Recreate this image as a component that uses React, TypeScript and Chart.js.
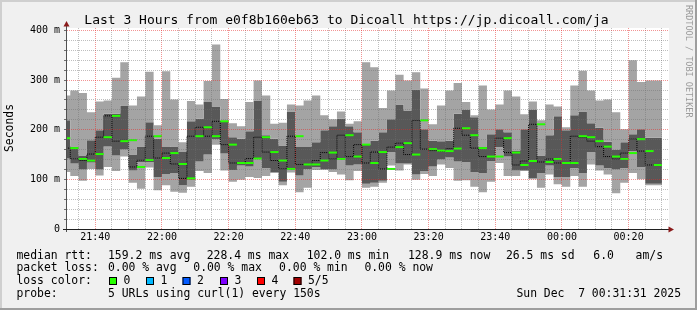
import React, { useEffect, useRef } from 'react';
import { Chart, registerables } from 'chart.js';

Chart.register(...registerables);

// time axis in minutes after 21:30 (one step = 150 s = 2.5 min)
const STEP_MIN = 2.5;
const X_MIN = 1 + 31 / 60; // 21:31:31
const X_MAX = X_MIN + 180; // 00:31:31
const Y_MAX = 405;

// per-step sorted ping values (ms)
const pingMax = [
  239, 269, 279, 274, 235, 257, 259, 305, 336, 249, 267, 317,
  209, 318, 261, 175, 258, 251, 298, 372, 262, 213, 207, 256,
  299, 269, 212, 214, 251, 249, 259, 269, 229, 221, 237, 212,
  217, 336, 326, 244, 279, 311, 299, 316, 283, 211, 249, 279,
  294, 256, 229, 289, 241, 251, 279, 267, 231, 257, 219, 251,
  247, 205, 289, 319, 279, 259, 261, 235, 201, 340, 296, 299,
];
const pingQ3 = [
  207, 219, 166, 148, 179, 199, 232, 232, 249, 150, 166, 215,
  182, 165, 166, 155, 217, 222, 256, 247, 217, 185, 182, 197,
  259, 189, 182, 168, 237, 165, 165, 175, 199, 207, 222, 207,
  195, 170, 178, 195, 221, 251, 239, 281, 201, 178, 177, 178,
  232, 241, 225, 165, 191, 201, 195, 158, 201, 241, 148, 189,
  227, 199, 229, 237, 213, 204, 176, 160, 175, 191, 201, 184,
];
const pingMedian = [
  183, 163, 141, 138, 151, 185, 228, 177, 179, 125, 139, 187,
  143, 153, 131, 102, 187, 205, 187, 217, 170, 133, 133, 142,
  185, 155, 138, 121, 187, 130, 130, 138, 154, 141, 189, 146,
  170, 133, 155, 121, 165, 173, 150, 219, 161, 158, 157, 162,
  203, 189, 163, 146, 146, 183, 154, 129, 137, 211, 135, 141,
  133, 133, 187, 185, 177, 166, 146, 141, 153, 181, 157, 129,
];
const pingQ1 = [
  121, 142, 132, 120, 134, 120, 166, 148, 160, 118, 135, 135,
  105, 111, 113, 88, 99, 136, 150, 181, 152, 119, 128, 126,
  143, 123, 115, 95, 121, 108, 121, 125, 121, 120, 143, 128,
  130, 91, 93, 97, 155, 132, 132, 110, 117, 126, 140, 144,
  136, 135, 115, 113, 137, 165, 146, 118, 118, 103, 113, 128,
  105, 105, 123, 113, 155, 128, 123, 120, 123, 157, 125, 91,
];
const pingMin = [
  105, 115, 107, 97, 121, 108, 125, 117, 146, 93, 81, 124,
  78, 88, 75, 73, 85, 117, 113, 170, 118, 95, 99, 105,
  103, 107, 113, 88, 114, 74, 83, 119, 119, 115, 110, 98,
  117, 83, 85, 93, 128, 118, 130, 99, 111, 107, 130, 123,
  97, 98, 85, 74, 95, 133, 107, 107, 117, 100, 83, 110,
  90, 85, 107, 85, 130, 118, 110, 72, 93, 113, 100, 88,
];

const xMajorValues = [10, 30, 50, 70, 90, 110, 130, 150, 170];
const xTickLabels = ['21:40', '22:00', '22:20', '22:40', '23:00', '23:20', '23:40', '00:00', '00:20'];
const yMajorValues = [0, 100, 200, 300, 400];
const yTickLabels = ['0', '100 m', '200 m', '300 m', '400 m'];

const titleText = 'Last 3 Hours from e0f8b160eb63 to Dicoall https://jp.dicoall.com/ja';
const yTitle = 'Seconds';
const watermark = 'RRDTOOL / TOBI OETIKER';
const rttStats = ['159.2 ms avg', '228.4 ms max', '102.0 ms min', '128.9 ms now', '26.5 ms sd', '6.0', 'am/s'];
const lossStats = ['0.00 % avg', '0.00 % max', '0.00 % min', '0.00 % now'];
const lossLabels = ['0', '1', '2', '3', '4', '5/5'];
const lossColors = ['#26ff00', '#00b8ff', '#0059ff', '#7e00ff', '#ff0000', '#a10000'];
const probeText = '5 URLs using curl(1) every 150s';
const dateText = 'Sun Dec  7 00:31:31 2025';

const MONO = '"DejaVu Sans Mono", monospace';
const LIGHT = '#a4a4a4';
const DARK = '#585858';
const GRID_MINOR = 'rgba(110,110,110,0.45)';
const GRID_MAJOR = 'rgba(230,40,40,0.5)';

const stepPoints = (vals: number[]) => [
  ...vals.map((v, i) => ({ x: i * STEP_MIN, y: v })),
  { x: vals.length * STEP_MIN, y: vals[vals.length - 1] },
];

const rrdPlugin = {
  id: 'rrdDecor',
  beforeDraw(chart: any) {
    const { ctx, width, height, chartArea: ca } = chart;
    ctx.save();
    ctx.fillStyle = '#f0f0f0';
    ctx.fillRect(0, 0, width, height);
    ctx.fillStyle = '#ffffff';
    ctx.fillRect(ca.left, ca.top, ca.right - ca.left + 2, ca.bottom - ca.top);
    ctx.fillStyle = '#cfcfcf';
    ctx.fillRect(0, 0, width, 2);
    ctx.fillRect(0, 0, 2, height);
    ctx.fillStyle = '#9e9e9e';
    ctx.fillRect(0, height - 2, width, 2);
    ctx.fillRect(width - 2, 0, 2, height);
    ctx.restore();
  },
  afterDatasetsDraw(chart: any) {
    // dotted rrdtool-style grid on top of the smoke
    const { ctx, chartArea: ca, scales } = chart;
    const xs = scales.x;
    const ys = scales.y;
    ctx.save();
    xs.ticks.forEach((t: any) => {
      const px = Math.floor(xs.getPixelForValue(t.value));
      ctx.fillStyle = xMajorValues.includes(t.value) ? GRID_MAJOR : GRID_MINOR;
      for (let py = Math.ceil(ca.top); py < ca.bottom; py += 2) ctx.fillRect(px, py, 1, 1);
    });
    ys.ticks.forEach((t: any) => {
      if (t.value === 0) return;
      const py = Math.floor(ys.getPixelForValue(t.value));
      ctx.fillStyle = yMajorValues.includes(t.value) ? GRID_MAJOR : GRID_MINOR;
      for (let px = Math.ceil(ca.left); px < ca.right + 1; px += 2) ctx.fillRect(px, py, 1, 1);
    });
    ctx.restore();
  },
  afterDraw(chart: any) {
    const { ctx, chartArea: ca } = chart;
    ctx.save();
    ctx.lineWidth = 1;
    ctx.strokeStyle = '#505050';
    ctx.beginPath();
    ctx.moveTo(ca.left - 0.5, ca.bottom + 3);
    ctx.lineTo(ca.left - 0.5, ca.top - 2);
    ctx.stroke();
    ctx.strokeStyle = '#202020';
    ctx.beginPath();
    ctx.moveTo(ca.left - 4, ca.bottom + 0.5);
    ctx.lineTo(ca.right + 2, ca.bottom + 0.5);
    ctx.stroke();
    ctx.fillStyle = '#8a1a1a';
    ctx.beginPath();
    ctx.moveTo(ca.left - 3.5, ca.top - 1.5);
    ctx.lineTo(ca.left + 2.5, ca.top - 1.5);
    ctx.lineTo(ca.left - 0.5, ca.top - 7);
    ctx.closePath();
    ctx.fill();
    ctx.beginPath();
    ctx.moveTo(ca.right + 1.5, ca.bottom - 2.5);
    ctx.lineTo(ca.right + 1.5, ca.bottom + 3.5);
    ctx.lineTo(ca.right + 7, ca.bottom + 0.5);
    ctx.closePath();
    ctx.fill();

    ctx.fillStyle = '#000';
    ctx.font = `13px ${MONO}`;
    ctx.textAlign = 'center';
    ctx.textBaseline = 'alphabetic';
    ctx.fillText(titleText, 346.5, 24);

    ctx.save();
    ctx.translate(10.5, 128);
    ctx.rotate(-Math.PI / 2);
    ctx.font = `11.4px ${MONO}`;
    ctx.textAlign = 'center';
    ctx.textBaseline = 'middle';
    ctx.fillText(yTitle, 0, 0);
    ctx.restore();

    ctx.save();
    ctx.translate(688.5, 5);
    ctx.rotate(Math.PI / 2);
    ctx.font = `8.5px ${MONO}`;
    ctx.fillStyle = '#9a9a9a';
    ctx.textAlign = 'left';
    ctx.textBaseline = 'middle';
    ctx.fillText(watermark, 0, 0);
    ctx.restore();

    ctx.font = `11.4px ${MONO}`;
    ctx.fillStyle = '#000';
    ctx.textAlign = 'left';
    ctx.textBaseline = 'middle';
    const rows = [256, 268.5, 281, 294];
    ctx.fillText('median rtt:', 16.5, rows[0]);
    const rttX = [108, 206.7, 306.7, 408, 506, 593.3, 635.6];
    rttStats.forEach((t, i) => ctx.fillText(t, rttX[i], rows[0]));
    ctx.fillText('packet loss:', 16.5, rows[1]);
    const lossX = [108, 193.3, 279.1, 364.4];
    lossStats.forEach((t, i) => ctx.fillText(t, lossX[i], rows[1]));
    ctx.fillText('loss color:', 16.5, rows[2]);
    const boxX = [109, 146, 182.5, 220, 257, 293.5];
    lossLabels.forEach((t, i) => {
      ctx.fillStyle = lossColors[i];
      ctx.fillRect(boxX[i], rows[2] - 4, 8, 8);
      ctx.strokeStyle = '#000';
      ctx.strokeRect(boxX[i] + 0.5, rows[2] - 3.5, 7, 7);
      ctx.fillStyle = '#000';
      ctx.fillText(t, boxX[i] + 14.5, rows[2]);
    });
    ctx.fillText('probe:', 16.5, rows[3]);
    ctx.fillText(probeText, 108, rows[3]);
    ctx.textAlign = 'right';
    ctx.fillText(dateText, 681, rows[3]);
    ctx.restore();
  },
};

export default function App() {
  const ref = useRef<HTMLCanvasElement | null>(null);
  useEffect(() => {
    if (!ref.current) return;
    const smoke = (vals: number[], fill: any, color: string) => ({
      data: stepPoints(vals),
      stepped: 'after',
      borderWidth: 0,
      borderColor: 'rgba(0,0,0,0)',
      pointRadius: 0,
      fill,
      backgroundColor: color,
      clip: 0,
    });
    const chart = new Chart(ref.current, {
      type: 'line',
      data: {
        datasets: [
          {
            data: pingMedian.map((v, i) => ({ x: (i + 0.5) * STEP_MIN, y: v })),
            showLine: false,
            pointStyle: 'line',
            pointRadius: 4.17,
            pointBorderWidth: 2,
            pointBorderColor: '#26ff00',
            pointBackgroundColor: '#26ff00',
            clip: 0,
          } as any,
          {
            data: stepPoints(pingMedian),
            stepped: 'after',
            borderColor: '#000',
            borderWidth: 1,
            borderDash: [1, 1],
            pointRadius: 0,
            fill: false,
            clip: 0,
          } as any,
          smoke(pingMax, 3, LIGHT) as any,
          smoke(pingQ3, 4, DARK) as any,
          smoke(pingQ1, 5, LIGHT) as any,
          smoke(pingMin, false, LIGHT) as any,
        ],
      },
      options: {
        animation: false,
        responsive: false,
        events: [],
        layout: { padding: { top: 28, right: 30, left: 0, bottom: 0 } },
        plugins: {
          legend: { display: false },
          tooltip: { enabled: false },
          title: { display: false },
        },
        scales: {
          x: {
            type: 'linear',
            min: X_MIN,
            max: X_MAX,
            afterFit: (s: any) => { s.height = 81; },
            afterBuildTicks: (s: any) => {
              const t = [];
              for (let v = 5; v <= 180; v += 5) t.push({ value: v });
              s.ticks = t;
            },
            ticks: {
              autoSkip: false,
              maxRotation: 0,
              minRotation: 0,
              padding: 2,
              color: '#000',
              font: { family: MONO, size: 10 },
              callback: (v: any) => {
                const i = xMajorValues.indexOf(Number(v));
                return i >= 0 ? xTickLabels[i] : '';
              },
            },
            grid: { drawOnChartArea: false, drawTicks: false },
            border: { display: false },
          },
          y: {
            min: 0,
            max: Y_MAX,
            afterFit: (s: any) => { s.width = 67; },
            afterBuildTicks: (s: any) => {
              const t = [];
              for (let v = 0; v <= 400; v += 20) t.push({ value: v });
              s.ticks = t;
            },
            ticks: {
              autoSkip: false,
              padding: 4,
              color: '#000',
              font: { family: MONO, size: 10 },
              callback: (v: any) => {
                const i = yMajorValues.indexOf(Number(v));
                return i >= 0 ? yTickLabels[i] : '';
              },
            },
            grid: {
              drawOnChartArea: false,
              drawTicks: true,
              tickLength: 3,
              tickWidth: 1,
              tickColor: '#707070',
            },
            border: { display: false },
          },
        },
      },
      plugins: [rrdPlugin],
    } as any);
    return () => chart.destroy();
  }, []);
  return (
    <div style={{ position: 'absolute', left: 0, top: 0 }}>
      <canvas ref={ref} width={697} height={310} style={{ display: 'block' }} />
    </div>
  );
}
